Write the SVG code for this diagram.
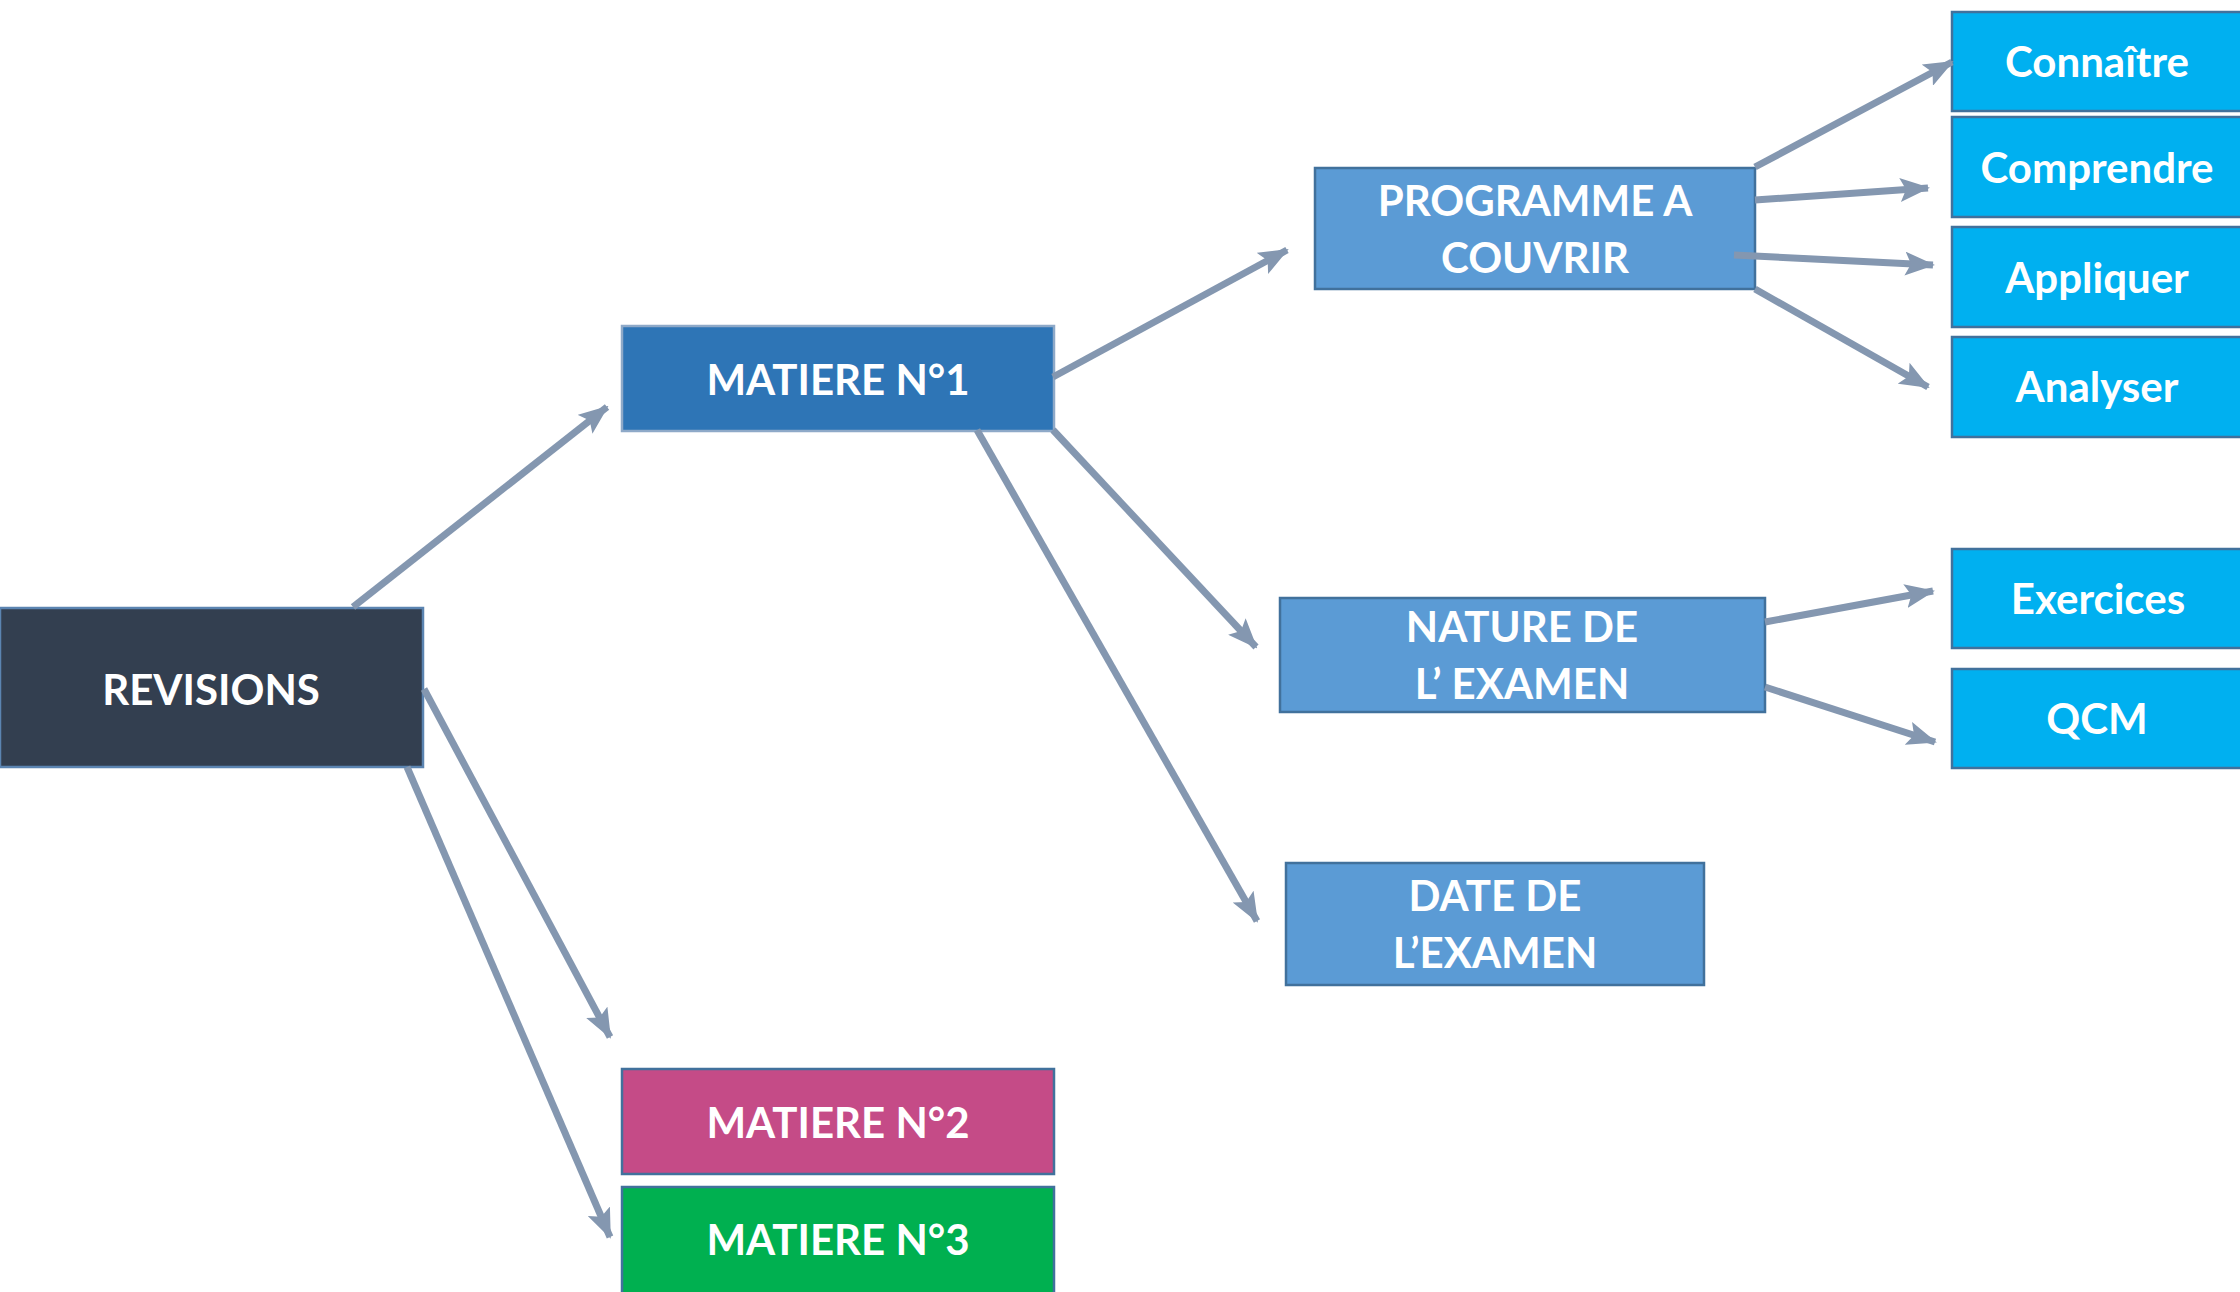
<svg xmlns="http://www.w3.org/2000/svg" width="2240" height="1292" viewBox="0 0 2240 1292">
<defs>
<marker id="ah" markerUnits="userSpaceOnUse" markerWidth="30" markerHeight="24" viewBox="0 0 30 24" refX="28" refY="12" orient="auto">
<path d="M0,0 L30,12 L0,24 L6,12 Z" fill="#8497B0"/>
</marker>
<style>
rect{stroke-width:2.5}
.t{font-family:Lato,"Open Sans","Liberation Sans",sans-serif;font-weight:700;font-size:42px;fill:#fff;text-anchor:middle}
.c{stroke:#8497B0;stroke-width:7;fill:none;marker-end:url(#ah)}
.mid{fill:#5B9BD5;stroke:#41719C}
.leaf{fill:#00B0F0;stroke:#41719C}
</style>
</defs>
<rect width="2240" height="1292" fill="#fff"/>
<g id="revisions"><rect x="0" y="608" width="423" height="159" fill="#333F50" stroke="#5B84B1"/><text class="t" x="211" y="705">REVISIONS</text></g>
<g id="matiere1"><rect x="622" y="326" width="432" height="105" fill="#2E75B6" stroke="#8EA9C8"/><text class="t" x="838" y="395">MATIERE N°1</text></g>
<g id="matiere2"><rect x="622" y="1069" width="432" height="105" fill="#C54B87" stroke="#41719C"/><text class="t" x="838" y="1138">MATIERE N°2</text></g>
<g id="matiere3"><rect x="622" y="1187" width="432" height="110" fill="#00B050" stroke="#41719C"/><text class="t" x="838" y="1255">MATIERE N°3</text></g>
<g id="programme"><rect class="mid" x="1315" y="168" width="440" height="121"/><text class="t" x="1535" y="216">PROGRAMME A</text><text class="t" x="1535" y="273">COUVRIR</text></g>
<g id="nature"><rect class="mid" x="1280" y="598" width="485" height="114"/><text class="t" x="1522" y="642">NATURE DE</text><text class="t" x="1522" y="699">L’ EXAMEN</text></g>
<g id="date"><rect class="mid" x="1286" y="863" width="418" height="122"/><text class="t" x="1495" y="911">DATE DE</text><text class="t" x="1495" y="968">L’EXAMEN</text></g>
<g id="connaitre"><rect class="leaf" x="1952" y="12" width="300" height="99"/><text class="t" x="2097" y="77">Connaître</text></g>
<g id="comprendre"><rect class="leaf" x="1952" y="117" width="300" height="100"/><text class="t" x="2097" y="183">Comprendre</text></g>
<g id="appliquer"><rect class="leaf" x="1952" y="227" width="300" height="100"/><text class="t" x="2097" y="293">Appliquer</text></g>
<g id="analyser"><rect class="leaf" x="1952" y="337" width="300" height="100"/><text class="t" x="2097" y="402">Analyser</text></g>
<g id="exercices"><rect class="leaf" x="1952" y="549" width="300" height="99"/><text class="t" x="2098" y="614">Exercices</text></g>
<g id="qcm"><rect class="leaf" x="1952" y="669" width="300" height="99"/><text class="t" x="2097" y="734">QCM</text></g>
<g id="connectors">
<line class="c" x1="353" y1="607" x2="607" y2="407"/>
<line class="c" x1="424" y1="689" x2="610" y2="1037"/>
<line class="c" x1="407" y1="767" x2="610" y2="1237"/>
<line class="c" x1="1053" y1="377" x2="1287" y2="250"/>
<line class="c" x1="1053" y1="430" x2="1256" y2="647"/>
<line class="c" x1="977" y1="430" x2="1257" y2="921"/>
<line class="c" x1="1755" y1="167" x2="1952" y2="62"/>
<line class="c" x1="1755" y1="200" x2="1928" y2="188"/>
<line class="c" x1="1734" y1="255" x2="1933" y2="265"/>
<line class="c" x1="1755" y1="289" x2="1928" y2="387"/>
<line class="c" x1="1765" y1="622" x2="1933" y2="591"/>
<line class="c" x1="1765" y1="687" x2="1935" y2="742"/>
</g>
</svg>
